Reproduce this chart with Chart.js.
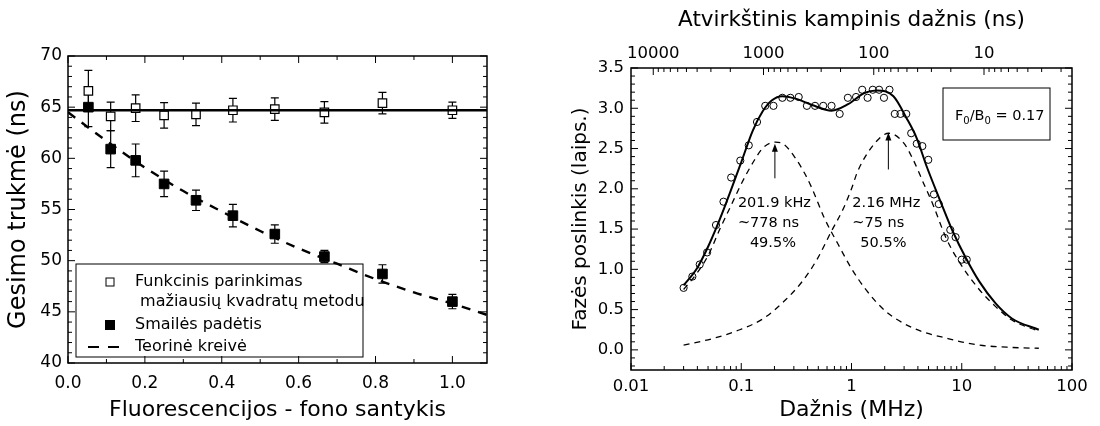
<!DOCTYPE html>
<html>
<head>
<meta charset="utf-8">
<script src="https://cdn.jsdelivr.net/npm/chart.js@4.4.1/dist/chart.umd.min.js"></script>
<style>
  html, body { margin: 0; padding: 0; background: #fff; }
  #wrap { position: relative; width: 1100px; height: 426px; overflow: hidden; }
  canvas { position: absolute; top: 0; }
  #left { left: 0; }
  #right { left: 540px; }
</style>
</head>
<body>
<div id="wrap">
  <canvas id="left" width="540" height="426"></canvas>
  <canvas id="right" width="560" height="426"></canvas>
</div>
<script>
// ---- left panel data ----
const ratio = [0.053, 0.111, 0.176, 0.25, 0.333, 0.429, 0.538, 0.667, 0.818, 1.0];
const fitTau = [66.6, 64.1, 64.9, 64.2, 64.3, 64.7, 64.8, 64.5, 65.4, 64.7];
const fitErr = [2.0, 1.4, 1.3, 1.25, 1.1, 1.15, 1.1, 1.05, 1.05, 0.8];
const peakTau = [65.0, 60.9, 59.8, 57.5, 55.9, 54.4, 52.6, 50.4, 48.7, 46.0];
const peakErr = [1.9, 1.8, 1.6, 1.25, 1.0, 1.1, 0.9, 0.6, 0.9, 0.7];
const fitLevel = 64.7;
const theoryX = [0, 0.1, 0.2, 0.3, 0.4, 0.5, 0.6, 0.7, 0.8, 0.9, 1.0, 1.09];
const theoryY = [64.5, 61.7, 59.1, 56.8, 54.8, 52.9, 51.2, 49.7, 48.2, 46.9, 45.8, 44.7];
const legendText = ['Funkcinis parinkimas', ' mažiausių kvadratų metodu', 'Smailės padėtis', 'Teorinė kreivė'];

const leftXTicks = [0, 0.2, 0.4, 0.6, 0.8, 1.0];
const leftXLabels = ['0.0', '0.2', '0.4', '0.6', '0.8', '1.0'];
const leftYTicks = [40, 45, 50, 55, 60, 65, 70];

// ---- right panel data ----
const freq = [0.030, 0.036, 0.042, 0.049, 0.059, 0.069, 0.081, 0.098, 0.117, 0.139, 0.165, 0.196,
  0.236, 0.279, 0.332, 0.394, 0.467, 0.554, 0.659, 0.781, 0.927, 1.10, 1.25, 1.40, 1.56, 1.78,
  1.97, 2.21, 2.47, 2.78, 3.14, 3.48, 3.91, 4.39, 4.97, 5.59, 6.19, 7.0, 7.87, 8.79, 10.0, 11.1];
const phase = [0.77, 0.91, 1.06, 1.21, 1.55, 1.84, 2.14, 2.35, 2.54, 2.83, 3.03, 3.03,
  3.13, 3.13, 3.14, 3.03, 3.03, 3.03, 3.03, 2.93, 3.13, 3.14, 3.23, 3.13, 3.23, 3.23,
  3.13, 3.23, 2.93, 2.93, 2.93, 2.69, 2.56, 2.53, 2.36, 1.93, 1.81, 1.39, 1.49, 1.40, 1.12, 1.12];
const fitF = [0.030, 0.040, 0.050, 0.060, 0.070, 0.080, 0.10, 0.127, 0.156, 0.19, 0.235, 0.31, 0.44,
  0.66, 0.93, 1.31, 1.7, 2.4, 3.15, 3.9, 4.8, 6.3, 8.3, 10.9, 14.4, 20.2, 28.5, 50];
const fitPhase = [0.80, 1.02, 1.28, 1.53, 1.76, 1.97, 2.33, 2.72, 2.96, 3.10, 3.15, 3.12, 3.04,
  2.97, 3.05, 3.19, 3.22, 3.15, 2.88, 2.63, 2.28, 1.87, 1.47, 1.14, 0.85, 0.58, 0.39, 0.25];
const slowF = [0.030, 0.040, 0.050, 0.064, 0.080, 0.100, 0.127, 0.158, 0.205, 0.245, 0.31, 0.38,
  0.44, 0.57, 0.75, 1.0, 1.33, 2.0, 3.5, 7.5, 14.4, 28.5, 50];
const slowPhase = [0.75, 0.96, 1.17, 1.50, 1.78, 2.06, 2.32, 2.51, 2.58, 2.55, 2.38, 2.18,
  2.00, 1.63, 1.32, 1.01, 0.76, 0.49, 0.28, 0.14, 0.06, 0.03, 0.02];
const fastF = [0.030, 0.055, 0.097, 0.159, 0.243, 0.358, 0.49, 0.65, 0.84, 1.0, 1.14, 1.66, 2.18,
  2.97, 3.63, 4.5, 5.5, 7.2, 9.4, 14.4, 20.2, 28.5, 50];
const fastPhase = [0.06, 0.14, 0.25, 0.39, 0.60, 0.85, 1.13, 1.46, 1.75, 2.0, 2.22, 2.58, 2.69,
  2.57, 2.36, 2.07, 1.80, 1.39, 1.10, 0.75, 0.54, 0.37, 0.23];
const peakFreq = [0.2019, 2.16];
const arrowFrom = [2.13, 2.24];
const arrowTo = [2.56, 2.70];
const peakNotes = [['201.9 kHz', '~778 ns', '49.5%'], ['2.16 MHz', '~75 ns', '50.5%']];

const freqTicks = [0.01, 0.1, 1, 10, 100];
const freqLabels = ['0.01', '0.1', '1', '10', '100'];
const phaseTicks = [0, 0.5, 1, 1.5, 2, 2.5, 3, 3.5];
const phaseLabels = ['0.0', '0.5', '1.0', '1.5', '2.0', '2.5', '3.0', '3.5'];
const tauTicks = [10000, 1000, 100, 10];

// ---- helpers ----
const FONT = "'DejaVu Sans', sans-serif";
Chart.defaults.font.family = FONT;
Chart.defaults.color = '#000';

const pts = (xs, ys) => xs.map((x, i) => ({ x: x, y: ys[i] }));
const tauToF = t => 1000 / (2 * Math.PI * t);
function range(a, b, s) {
  const r = [];
  for (let v = a; v <= b + 1e-9; v += s) r.push(+v.toFixed(4));
  return r;
}
const leftXMinor = range(0.1, 0.9, 0.2);
const leftYMinor = range(40, 70, 1).filter(v => v % 5 !== 0);
const phaseMinor = range(-0.2, 3.4, 0.1).filter(v => Math.abs(v * 2 - Math.round(v * 2)) > 1e-6);
const freqMinor = [];
[0.01, 0.1, 1, 10].forEach(d => { for (let k = 2; k < 10; k++) freqMinor.push(d * k); });
const tauMinor = [];
[1, 10, 100, 1000].forEach(d => { for (let k = 2; k < 10; k++) tauMinor.push(d * k); });

// inward ticks + frame
function frame(marks) {
  return {
    id: 'frame',
    afterDraw(chart) {
      const { ctx, chartArea: a } = chart;
      ctx.save();
      ctx.strokeStyle = '#000';
      ctx.lineWidth = 1;
      marks.forEach(m => {
        const s = chart.scales[m.scale];
        ctx.beginPath();
        m.values.forEach(v => {
          const p = s.getPixelForValue(v);
          if (m.sides.includes('bottom')) { ctx.moveTo(p, a.bottom); ctx.lineTo(p, a.bottom - m.len); }
          if (m.sides.includes('top')) { ctx.moveTo(p, a.top); ctx.lineTo(p, a.top + m.len); }
          if (m.sides.includes('left')) { ctx.moveTo(a.left, p); ctx.lineTo(a.left + m.len, p); }
          if (m.sides.includes('right')) { ctx.moveTo(a.right, p); ctx.lineTo(a.right - m.len, p); }
        });
        ctx.stroke();
      });
      ctx.lineWidth = 1.5;
      ctx.strokeRect(a.left, a.top, a.right - a.left, a.bottom - a.top);
      ctx.restore();
    }
  };
}

const errorBars = {
  id: 'errorBars',
  beforeDatasetsDraw(chart) {
    const { ctx, scales: { x, y } } = chart;
    ctx.save();
    ctx.strokeStyle = '#000';
    ctx.lineWidth = 1.2;
    chart.data.datasets.forEach(ds => {
      if (!ds.errors) return;
      ds.data.forEach((p, i) => {
        const px = x.getPixelForValue(p.x);
        const t = y.getPixelForValue(p.y + ds.errors[i]);
        const b = y.getPixelForValue(p.y - ds.errors[i]);
        ctx.beginPath();
        ctx.moveTo(px, t); ctx.lineTo(px, b);
        ctx.moveTo(px - 4, t); ctx.lineTo(px + 4, t);
        ctx.moveTo(px - 4, b); ctx.lineTo(px + 4, b);
        ctx.stroke();
      });
    });
    ctx.restore();
  }
};

const legendBox = {
  id: 'legendBox',
  afterDraw(chart) {
    const { ctx, chartArea: a } = chart;
    const x0 = a.left + 8, y0 = 264, x1 = 363, y1 = 357;
    const rows = [282, 302, 325, 347];
    ctx.save();
    ctx.strokeStyle = '#000';
    ctx.lineWidth = 1;
    ctx.strokeRect(x0, y0, x1 - x0, y1 - y0);
    ctx.strokeRect(106, rows[0] - 4, 8, 8);
    ctx.fillStyle = '#000';
    ctx.fillRect(105, rows[2] - 5, 10, 10);
    ctx.lineWidth = 2;
    ctx.setLineDash([11, 9]);
    ctx.beginPath();
    ctx.moveTo(88, rows[3]); ctx.lineTo(119, rows[3]);
    ctx.stroke();
    ctx.setLineDash([]);
    ctx.font = '16px ' + FONT;
    ctx.textBaseline = 'middle';
    legendText.forEach((t, i) => ctx.fillText(t, 135, rows[i]));
    ctx.restore();
  }
};

const notes = {
  id: 'notes',
  afterDatasetsDraw(chart) {
    const { ctx, scales: { x, y }, chartArea: a } = chart;
    const offs = [[-37, -37, -25], [-36, -36, -28]];
    const rows = [203, 223, 243];
    ctx.save();
    ctx.strokeStyle = '#000';
    ctx.fillStyle = '#000';
    ctx.lineWidth = 1;
    ctx.font = '14.5px ' + FONT;
    ctx.textBaseline = 'middle';
    peakFreq.forEach((f, i) => {
      const px = x.getPixelForValue(f);
      const yb = y.getPixelForValue(arrowFrom[i]);
      const yt = y.getPixelForValue(arrowTo[i]);
      ctx.beginPath();
      ctx.moveTo(px, yb); ctx.lineTo(px, yt + 6);
      ctx.stroke();
      ctx.beginPath();
      ctx.moveTo(px, yt); ctx.lineTo(px - 3, yt + 8); ctx.lineTo(px + 3, yt + 8);
      ctx.closePath(); ctx.fill();
      peakNotes[i].forEach((t, j) => ctx.fillText(t, px + offs[i][j], rows[j]));
    });
    // F0/B0 box
    const bx0 = a.right - 129, bx1 = a.right - 22, by0 = a.top + 20, by1 = a.top + 72;
    ctx.strokeRect(bx0, by0, bx1 - bx0, by1 - by0);
    ctx.textBaseline = 'alphabetic';
    let tx = bx0 + 12;
    const base = 120;
    const parts = [['F', 0], ['0', 1], ['/B', 0], ['0', 1], [' = 0.17', 0]];
    parts.forEach(([t, sub]) => {
      ctx.font = (sub ? '10px ' : '14.5px ') + FONT;
      ctx.fillText(t, tx, base + (sub ? 4 : 0));
      tx += ctx.measureText(t).width;
    });
    ctx.restore();
  }
};

function fixedTicks(values) {
  return s => { s.ticks = values.map(v => ({ value: v })); };
}
const tickFont = size => ({ size: size, family: FONT });

// ---- left chart ----
new Chart(document.getElementById('left'), {
  type: 'scatter',
  data: {
    datasets: [
      {
        data: pts(ratio, peakTau), errors: peakErr,
        pointStyle: 'rect', pointRadius: 6.8, backgroundColor: '#000', borderColor: '#000', borderWidth: 1
      },
      {
        data: pts([0, 1.09], [fitLevel, fitLevel]), showLine: true,
        borderColor: '#000', borderWidth: 2.5, pointRadius: 0
      },
      {
        data: pts(ratio, fitTau), errors: fitErr,
        pointStyle: 'rect', pointRadius: 6, backgroundColor: '#fff', borderColor: '#000', borderWidth: 1.2
      },
      {
        data: pts(theoryX, theoryY), showLine: true, cubicInterpolationMode: 'monotone',
        borderColor: '#000', borderWidth: 2.4, borderDash: [9, 8], pointRadius: 0
      }
    ]
  },
  options: {
    responsive: false,
    animation: false,
    layout: { padding: { top: 56, right: 53, left: 0, bottom: 0 } },
    plugins: { legend: { display: false }, tooltip: { enabled: false } },
    scales: {
      x: {
        type: 'linear', min: 0, max: 1.09,
        afterFit: s => { s.height = 63; },
        afterBuildTicks: fixedTicks(leftXTicks),
        grid: { display: false, drawTicks: false },
        border: { display: false },
        ticks: { padding: 10, maxRotation: 0, autoSkip: false, font: tickFont(17), callback: (v, i) => leftXLabels[i] },
        title: { display: true, text: 'Fluorescencijos - fono santykis', font: tickFont(22), padding: { top: 0, bottom: 3 } }
      },
      y: {
        type: 'linear', min: 40, max: 70,
        afterFit: s => { s.width = 68; },
        afterBuildTicks: fixedTicks(leftYTicks),
        grid: { display: false, drawTicks: false },
        border: { display: false },
        ticks: { padding: 6, autoSkip: false, font: tickFont(17), callback: v => String(v) },
        title: { display: true, text: 'Gesimo trukmė (ns)', font: tickFont(24), padding: { top: 4, bottom: 0 } }
      }
    }
  },
  plugins: [errorBars, frame([
    { scale: 'x', values: leftXTicks, len: 7, sides: ['bottom', 'top'] },
    { scale: 'x', values: leftXMinor, len: 4, sides: ['bottom', 'top'] },
    { scale: 'y', values: leftYTicks, len: 7, sides: ['left', 'right'] },
    { scale: 'y', values: leftYMinor, len: 4, sides: ['left', 'right'] }
  ]), legendBox]
});

// ---- right chart ----
new Chart(document.getElementById('right'), {
  type: 'scatter',
  data: {
    datasets: [
      {
        data: pts(freq, phase), pointStyle: 'circle', pointRadius: 3.6,
        backgroundColor: 'rgba(0,0,0,0)', borderColor: '#000', borderWidth: 1
      },
      {
        data: pts(fitF, fitPhase), showLine: true, cubicInterpolationMode: 'monotone',
        borderColor: '#000', borderWidth: 2, pointRadius: 0
      },
      {
        data: pts(slowF, slowPhase), showLine: true, cubicInterpolationMode: 'monotone',
        borderColor: '#000', borderWidth: 1.3, borderDash: [6, 5], pointRadius: 0
      },
      {
        data: pts(fastF, fastPhase), showLine: true, cubicInterpolationMode: 'monotone',
        borderColor: '#000', borderWidth: 1.3, borderDash: [6, 5], pointRadius: 0
      }
    ]
  },
  options: {
    responsive: false,
    animation: false,
    layout: { padding: { top: 0, right: 28, left: 0, bottom: 0 } },
    plugins: { legend: { display: false }, tooltip: { enabled: false } },
    scales: {
      x: {
        type: 'logarithmic', position: 'bottom', min: 0.01, max: 100,
        afterFit: s => { s.height = 56; },
        afterBuildTicks: fixedTicks(freqTicks),
        grid: { display: false, drawTicks: false },
        border: { display: false },
        ticks: { padding: 7, maxRotation: 0, autoSkip: false, font: tickFont(16.5), callback: (v, i) => freqLabels[i] },
        title: { display: true, text: 'Dažnis (MHz)', font: tickFont(22), padding: { top: 0, bottom: 3 } }
      },
      x2: {
        type: 'logarithmic', position: 'top', min: 0.01, max: 100,
        afterFit: s => { s.height = 68; },
        afterBuildTicks: fixedTicks(tauTicks.map(tauToF)),
        grid: { display: false, drawTicks: false },
        border: { display: false },
        ticks: { padding: 4.5, maxRotation: 0, autoSkip: false, font: tickFont(16.5), callback: (v, i) => String(tauTicks[i]) },
        title: { display: true, text: 'Atvirkštinis kampinis dažnis (ns)', font: tickFont(21.5), padding: { top: 8, bottom: 0 } }
      },
      y: {
        type: 'linear', min: -0.25, max: 3.5,
        afterFit: s => { s.width = 91; },
        afterBuildTicks: fixedTicks(phaseTicks),
        grid: { display: false, drawTicks: false },
        border: { display: false },
        ticks: { padding: 7, autoSkip: false, font: tickFont(16.5), callback: (v, i) => phaseLabels[i] },
        title: { display: true, text: 'Fazės poslinkis (laips.)', font: tickFont(20), padding: { top: 29, bottom: 0 } }
      }
    }
  },
  plugins: [frame([
    { scale: 'x', values: freqTicks, len: 7, sides: ['bottom'] },
    { scale: 'x', values: freqMinor, len: 4, sides: ['bottom'] },
    { scale: 'x2', values: tauTicks.map(tauToF), len: 7, sides: ['top'] },
    { scale: 'x2', values: tauMinor.map(tauToF), len: 4, sides: ['top'] },
    { scale: 'y', values: phaseTicks, len: 7, sides: ['left', 'right'] },
    { scale: 'y', values: phaseMinor, len: 4, sides: ['left', 'right'] }
  ]), notes]
});
</script>
</body>
</html>
